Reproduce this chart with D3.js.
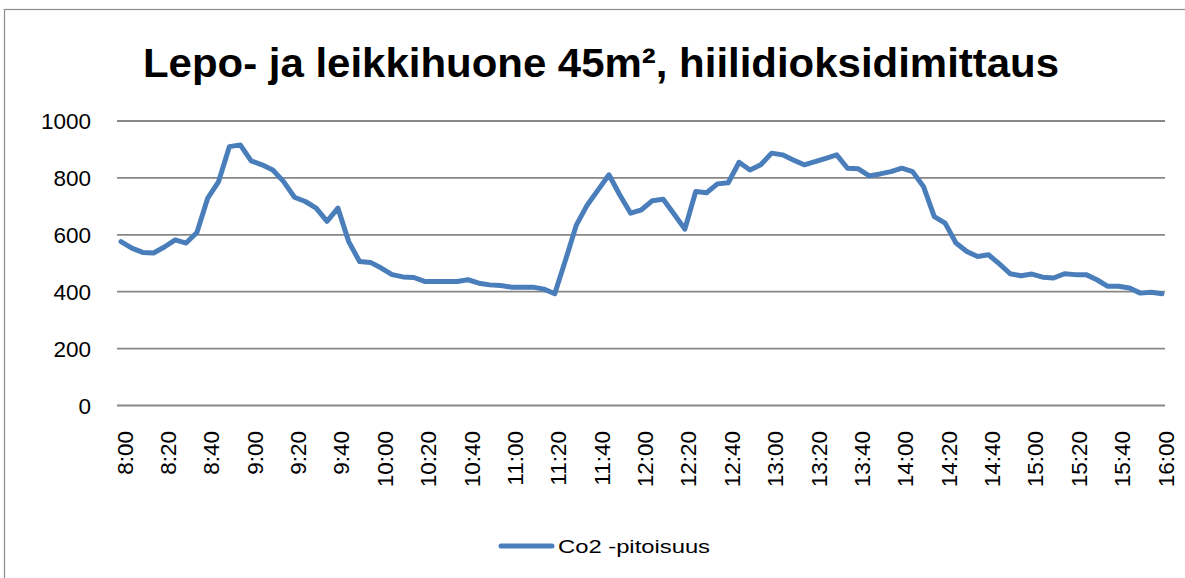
<!DOCTYPE html>
<html>
<head>
<meta charset="utf-8">
<script src="https://cdn.jsdelivr.net/npm/d3@7"></script>
<style>
  body { margin: 0; background: #fff; }
  svg { display: block; }
</style>
</head>
<body>
<svg id="chart" width="1185" height="578"></svg>
<script>
// chart texts
const chartTitle = "Lepo- ja leikkihuone 45m², hiilidioksidimittaus";
const seriesName = "Co2 -pitoisuus";

// y axis ticks
const yTicks = [0, 200, 400, 600, 800, 1000];

// readings every 5 min, 8:00 - 16:00
const co2Values = [
    576, 553, 538, 536, 557, 582, 571, 608, 729, 787,
    910, 916, 860, 846, 828, 787, 732, 717, 694, 647,
    694, 576, 506, 503, 483, 460, 452, 450, 436, 436,
    436, 436, 442, 430, 424, 422, 416, 416, 416, 409,
    393, 512, 635, 705, 758, 811, 740, 676, 688, 720,
    725, 673, 620, 752, 748, 779, 783, 855, 828, 846,
    887, 881, 863, 846, 857, 869, 881, 834, 832, 807,
    814, 822, 834, 822, 770, 664, 641, 571, 541, 524,
    530, 498, 463, 456, 462, 451, 448, 463, 460, 460,
    442, 419, 419, 413, 395, 398, 393];

// time labels for each reading
const timeLabels = co2Values.map((d, i) => {
    const m = 8 * 60 + i * 5;
    return Math.floor(m / 60) + ":" + String(m % 60).padStart(2, "0");
});

// every 4th label is shown on the axis
const shownLabels = timeLabels.filter((d, i) => i % 4 === 0);

const svg = d3.select("#chart");

// chart frame
svg.append("rect")
    .attr("x", 4.5).attr("y", 9.5)
    .attr("width", 1300).attr("height", 700)
    .attr("fill", "none")
    .attr("stroke", "#8c8c8c")
    .attr("stroke-width", 1.2);

const x = d3.scalePoint()
    .domain(timeLabels)
    .range([121, 1162]);

const y = d3.scaleLinear()
    .domain([0, 1000])
    .range([405.5, 121]);

// gridlines
svg.append("g")
    .selectAll("line")
    .data(yTicks)
    .join("line")
    .attr("x1", 117).attr("x2", 1165)
    .attr("y1", d => y(d)).attr("y2", d => y(d))
    .attr("stroke", "#878787")
    .attr("stroke-width", 1.8);

// y labels
svg.append("g")
    .selectAll("text")
    .data(yTicks)
    .join("text")
    .attr("x", 91)
    .attr("y", d => y(d))
    .attr("dy", "0.36em")
    .attr("text-anchor", "end")
    .attr("font-family", "Liberation Sans, Arial, sans-serif")
    .attr("font-size", 22.5)
    .attr("fill", "#000")
    .text(d => d);

// x labels, rotated
svg.append("g")
    .selectAll("text")
    .data(shownLabels)
    .join("text")
    .attr("transform", d => "translate(" + (x(d) + 11.5) + ",431) rotate(-90)")
    .attr("text-anchor", "end")
    .attr("font-family", "Liberation Sans, Arial, sans-serif")
    .attr("font-size", 22.5)
    .attr("fill", "#000")
    .text(d => d);

// the line
const line = d3.line()
    .x((d, i) => x(timeLabels[i]))
    .y(d => y(d));

svg.append("path")
    .datum(co2Values)
    .attr("d", line)
    .attr("fill", "none")
    .attr("stroke", "#4a7ebb")
    .attr("stroke-width", 5)
    .attr("stroke-linejoin", "round")
    .attr("stroke-linecap", "round");

// title
svg.append("text")
    .attr("x", 601)
    .attr("y", 77)
    .attr("text-anchor", "middle")
    .attr("font-family", "Liberation Sans, Arial, sans-serif")
    .attr("font-weight", "bold")
    .attr("font-size", 40)
    .attr("textLength", 916)
    .attr("lengthAdjust", "spacingAndGlyphs")
    .attr("fill", "#000")
    .text(chartTitle);

// legend
const legend = svg.append("g");
legend.append("line")
    .attr("x1", 501).attr("x2", 552)
    .attr("y1", 546).attr("y2", 546)
    .attr("stroke", "#4a7ebb")
    .attr("stroke-width", 5)
    .attr("stroke-linecap", "round");
legend.append("text")
    .attr("x", 558)
    .attr("y", 546)
    .attr("dy", "0.35em")
    .attr("font-family", "Liberation Sans, Arial, sans-serif")
    .attr("font-size", 19)
    .attr("textLength", 152)
    .attr("lengthAdjust", "spacingAndGlyphs")
    .attr("fill", "#000")
    .text(seriesName);
</script>
</body>
</html>
